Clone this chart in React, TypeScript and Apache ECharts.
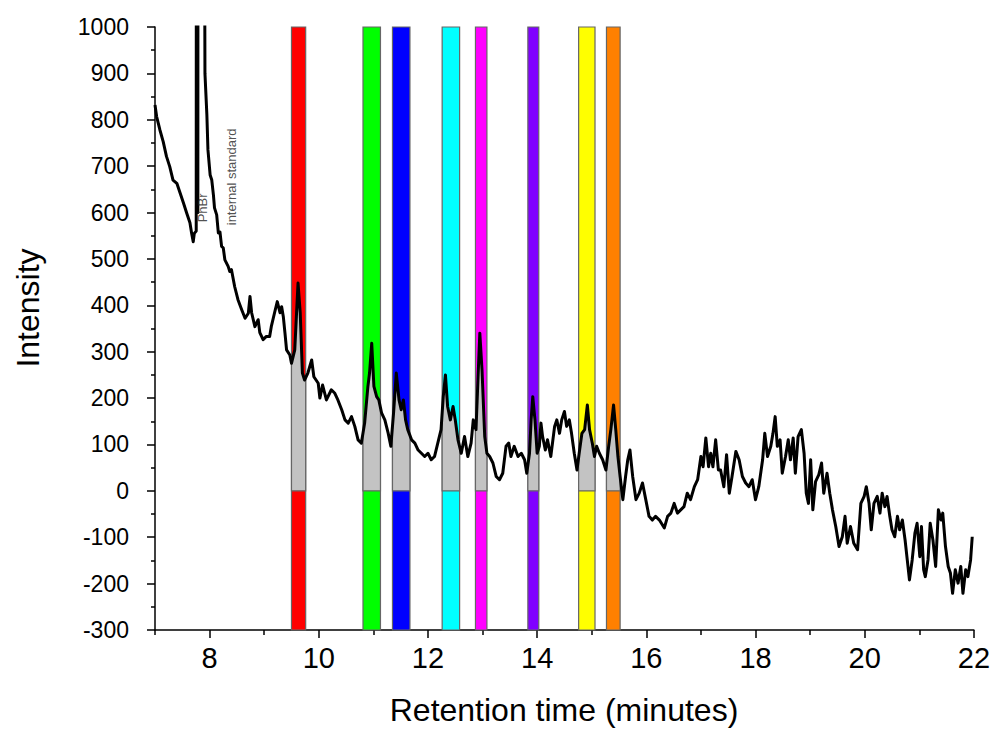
import React, { useEffect, useRef } from "react";
import * as echarts from "echarts";

// Chromatogram: retention time (min) and intensity
const retentionTime = [
  7.0, 7.03, 7.09, 7.15, 7.21, 7.27, 7.33, 7.4, 7.46, 7.52, 7.58, 7.64, 7.67, 7.7, 7.72, 7.755, 7.765, 7.785, 7.8,
  7.915, 7.95, 7.97, 8.01, 8.04, 8.07, 8.09, 8.13, 8.16, 8.19, 8.22, 8.25, 8.28, 8.34, 8.37, 8.4, 8.46, 8.52, 8.59,
  8.65, 8.71, 8.74, 8.77, 8.83, 8.89, 8.92, 8.98, 9.04, 9.1, 9.13, 9.19, 9.24, 9.29, 9.32, 9.35, 9.38, 9.41, 9.47,
  9.5, 9.56, 9.62, 9.66, 9.7, 9.74, 9.8, 9.87, 9.91, 9.99, 10.02, 10.07, 10.14, 10.23, 10.29, 10.35, 10.42, 10.48,
  10.54, 10.6, 10.66, 10.72, 10.78, 10.84, 10.9, 10.93, 10.97, 11.01, 11.06, 11.1, 11.15, 11.21, 11.27, 11.32, 11.37,
  11.42, 11.47, 11.51, 11.55, 11.59, 11.63, 11.7, 11.76, 11.82, 11.88, 11.94, 12.0, 12.06, 12.12, 12.18, 12.24,
  12.28, 12.32, 12.36, 12.41, 12.46, 12.5, 12.55, 12.61, 12.67, 12.73, 12.79, 12.83, 12.88, 12.93, 12.95, 12.99,
  13.04, 13.08, 13.13, 13.19, 13.25, 13.31, 13.37, 13.43, 13.48, 13.52, 13.58, 13.65, 13.71, 13.77, 13.81, 13.86,
  13.89, 13.92, 13.96, 14.0, 14.04, 14.07, 14.1, 14.15, 14.19, 14.25, 14.32, 14.36, 14.41, 14.45, 14.5, 14.54,
  14.59, 14.63, 14.68, 14.73, 14.77, 14.82, 14.87, 14.92, 14.96, 15.01, 15.05, 15.09, 15.14, 15.2, 15.26, 15.31,
  15.35, 15.4, 15.44, 15.48, 15.52, 15.57, 15.62, 15.66, 15.7, 15.75, 15.81, 15.87, 15.93, 15.99, 16.05, 16.11,
  16.17, 16.24, 16.33, 16.39, 16.45, 16.51, 16.57, 16.63, 16.69, 16.75, 16.81, 16.88, 16.94, 17.0, 17.04, 17.09,
  17.14, 17.18, 17.22, 17.27, 17.32, 17.36, 17.42, 17.47, 17.52, 17.57, 17.64, 17.7, 17.76, 17.82, 17.88, 17.94,
  18.0, 18.06, 18.13, 18.17, 18.22, 18.28, 18.32, 18.36, 18.4, 18.45, 18.49, 18.55, 18.6, 18.64, 18.69, 18.73,
  18.78, 18.84, 18.89, 18.93, 18.97, 19.01, 19.05, 19.1, 19.16, 19.21, 19.25, 19.31, 19.36, 19.41, 19.47, 19.53,
  19.59, 19.64, 19.68, 19.74, 19.8, 19.87, 19.93, 19.99, 20.03, 20.08, 20.12, 20.17, 20.23, 20.28, 20.32, 20.37,
  20.41, 20.46, 20.5, 20.55, 20.6, 20.64, 20.69, 20.74, 20.78, 20.82, 20.87, 20.92, 20.96, 21.01, 21.04, 21.08,
  21.11, 21.16, 21.2, 21.25, 21.3, 21.35, 21.4, 21.43, 21.48, 21.53, 21.57, 21.61, 21.66, 21.71, 21.76, 21.8,
  21.85, 21.89, 21.94, 21.97,
];

const intensity = [
  832, 807, 778, 753, 721, 699, 670, 663, 642, 621, 599, 578, 556, 537, 555, 560, 4000, 600, 6000,
  900, 811, 735, 681, 670, 638, 610, 595, 556, 558, 527, 524, 498, 484, 473, 477, 440, 412, 390,
  372, 383, 419, 384, 354, 369, 341, 326, 333, 333, 354, 384, 408, 384, 397, 376, 341, 304, 293,
  275, 304, 448, 384, 254, 239, 254, 282, 246, 232, 200, 228, 196, 218, 211, 196, 175, 153,
  146, 160, 139, 110, 103, 146, 225, 254, 318, 225, 203, 196, 168, 153, 125, 96, 168,
  254, 196, 175, 196, 153, 132, 110, 103, 88, 81, 74, 81, 67, 74, 103, 132,
  203, 250, 182, 153, 182, 153, 110, 81, 117, 74, 103, 153, 132, 282, 340, 261,
  117, 81, 74, 60, 31, 24, 38, 96, 103, 74, 96, 74, 81, 67, 38, 81,
  153, 203, 153, 81, 96, 146, 117, 88, 110, 74, 139, 153, 124, 153, 171, 139,
  153, 124, 81, 45, 81, 124, 132, 185, 132, 103, 74, 96, 81, 67, 45, 96,
  132, 185, 132, 74, 31, -19, 31, 67, 88, 31, -19, -5, 17, -19, -55, -63,
  -55, -63, -80, -55, -48, -27, -48, -41, -34, -5, -19, 9, 24, 74, 52, 114,
  52, 81, 52, 110, 45, 45, 9, 78, -5, 31, 85, 67, 31, 17, 9, 24,
  -19, 9, 67, 124, 74, 96, 124, 160, 96, 110, 38, 74, 110, 67, 114, 38,
  117, 132, 81, -5, -27, 67, -41, 20, 35, 60, -5, 38, -5, -41, -77, -120,
  -99, -55, -113, -77, -113, -127, -27, -12, 9, -27, -84, -27, -12, -48, -5, -34,
  -12, -55, -84, -99, -55, -84, -63, -106, -149, -192, -149, -91, -70, -142, -77, -170,
  -185, -149, -70, -106, -163, -41, -63, -48, -120, -163, -177, -221, -170, -199, -163, -221,
  -170, -185, -149, -99,
];

// Integration windows (retention time, minutes)
const windowStart = [9.5, 10.81, 11.35, 12.26, 12.87, 13.83, 14.76, 15.27];
const windowEnd = [9.76, 11.13, 11.67, 12.58, 13.08, 14.03, 15.06, 15.52];
const windowColors = ["#ff0000", "#00ff00", "#0000ff", "#00ffff", "#ff00ff", "#8000ff", "#ffff00", "#ff8000"];

// Peak annotations
const annotationText = ["PhBr", "internal standard"];
const annotationX = [7.87, 8.41];
const annotationY = [610, 677];

const xMajorTicks = [8, 10, 12, 14, 16, 18, 20, 22];
const xMinorTicks = [7, 9, 11, 13, 15, 17, 19, 21];

const Y_MIN = -300;
const Y_MAX = 1000;
const FONT = "'Liberation Sans', Arial, Helvetica, sans-serif";

function valueAt(t: number): number {
  for (let i = 0; i < retentionTime.length - 1; i++) {
    const a = retentionTime[i];
    const b = retentionTime[i + 1];
    if (t >= a && t <= b) {
      const f = (t - a) / (b - a);
      return intensity[i] + f * (intensity[i + 1] - intensity[i]);
    }
  }
  return intensity[intensity.length - 1];
}

export default function App() {
  const ref = useRef<HTMLDivElement>(null);

  useEffect(() => {
    if (!ref.current) return;
    const chart = echarts.init(ref.current, null, { renderer: "svg" });

    const curve = retentionTime.map((t, i) => [t, intensity[i]]);
    const windows = windowStart.map((s, i) => [s, windowEnd[i], i]);

    const option: any = {
      animation: false,
      backgroundColor: "#ffffff",
      grid: { left: 155, right: 18, top: 27, bottom: 99, containLabel: false },
      xAxis: [
        {
          type: "value",
          min: 7,
          max: 22,
          interval: 1,
          position: "bottom",
          axisLine: { onZero: false, lineStyle: { color: "#000", width: 1.5 } },
          axisTick: { customValues: xMajorTicks, length: 8, lineStyle: { color: "#000", width: 1.5 } },
          axisLabel: {
            customValues: xMajorTicks,
            color: "#000",
            fontSize: 29,
            fontFamily: FONT,
            margin: 13,
            formatter: (v: number) => String(v),
          },
          splitLine: { show: false },
        },
        {
          type: "value",
          min: 7,
          max: 22,
          interval: 1,
          position: "bottom",
          offset: 0,
          axisLine: { show: false, onZero: false },
          axisTick: { customValues: xMinorTicks, length: 5, lineStyle: { color: "#000", width: 1.5 } },
          axisLabel: { show: false },
          splitLine: { show: false },
        },
      ],
      yAxis: {
        type: "value",
        min: Y_MIN,
        max: Y_MAX,
        interval: 100,
        axisLine: { show: true, lineStyle: { color: "#000", width: 1.5 } },
        axisTick: { show: true, length: 8, lineStyle: { color: "#000", width: 1.5 } },
        minorTick: { show: true, splitNumber: 2, length: 4, lineStyle: { color: "#000", width: 1.5 } },
        axisLabel: {
          color: "#000",
          fontSize: 23,
          fontFamily: FONT,
          margin: 26,
          formatter: (v: number) => String(v),
        },
        splitLine: { show: false },
      },
      graphic: [
        {
          type: "text",
          x: 28,
          y: 308,
          rotation: Math.PI / 2,
          style: {
            text: "Intensity",
            fontSize: 32,
            fontFamily: FONT,
            fill: "#000",
            align: "center",
            verticalAlign: "middle",
          },
        },
        {
          type: "text",
          x: 564,
          y: 710,
          style: {
            text: "Retention time (minutes)",
            fontSize: 32,
            fontFamily: FONT,
            fill: "#000",
            align: "center",
            verticalAlign: "middle",
          },
        },
      ],
      series: [
        {
          type: "custom",
          name: "windows",
          xAxisIndex: 0,
          data: windows,
          encode: { x: [0, 1] },
          z: 1,
          renderItem: (params: any, api: any) => {
            const s = api.value(0);
            const e = api.value(1);
            const idx = api.value(2);
            const p0 = api.coord([s, Y_MAX]);
            const p1 = api.coord([e, Y_MIN]);
            return {
              type: "rect",
              shape: { x: p0[0], y: p0[1], width: p1[0] - p0[0], height: p1[1] - p0[1] },
              style: { fill: windowColors[idx], stroke: "#666", lineWidth: 1.2 },
            };
          },
        },
        {
          type: "custom",
          name: "areas",
          xAxisIndex: 0,
          data: windows,
          encode: { x: [0, 1] },
          z: 2,
          renderItem: (params: any, api: any) => {
            const s = api.value(0);
            const e = api.value(1);
            const pts: number[][] = [];
            pts.push(api.coord([s, 0]));
            pts.push(api.coord([s, valueAt(s)]));
            for (let i = 0; i < retentionTime.length; i++) {
              if (retentionTime[i] > s && retentionTime[i] < e) {
                pts.push(api.coord([retentionTime[i], intensity[i]]));
              }
            }
            pts.push(api.coord([e, valueAt(e)]));
            pts.push(api.coord([e, 0]));
            return {
              type: "polygon",
              shape: { points: pts },
              style: { fill: "#c3c3c3", stroke: "#666", lineWidth: 1.2 },
            };
          },
        },
        {
          type: "line",
          name: "signal",
          xAxisIndex: 0,
          data: curve,
          showSymbol: false,
          symbol: "none",
          clip: true,
          z: 5,
          lineStyle: { color: "#000", width: 3, join: "round" },
        },
        {
          type: "scatter",
          name: "labels",
          xAxisIndex: 0,
          symbolSize: 0,
          z: 6,
          data: annotationText.map((txt, i) => ({ value: [annotationX[i], annotationY[i]], name: txt })),
          label: {
            show: true,
            position: "inside",
            rotate: 90,
            formatter: (p: any) => p.name,
            fontSize: 13,
            fontFamily: FONT,
            color: "#222",
          },
        },
      ],
    };

    chart.setOption(option);
    return () => chart.dispose();
  }, []);

  return (
    <div
      ref={ref}
      style={{ position: "absolute", left: 0, top: 0, width: 993, height: 729, background: "#fff" }}
    />
  );
}
